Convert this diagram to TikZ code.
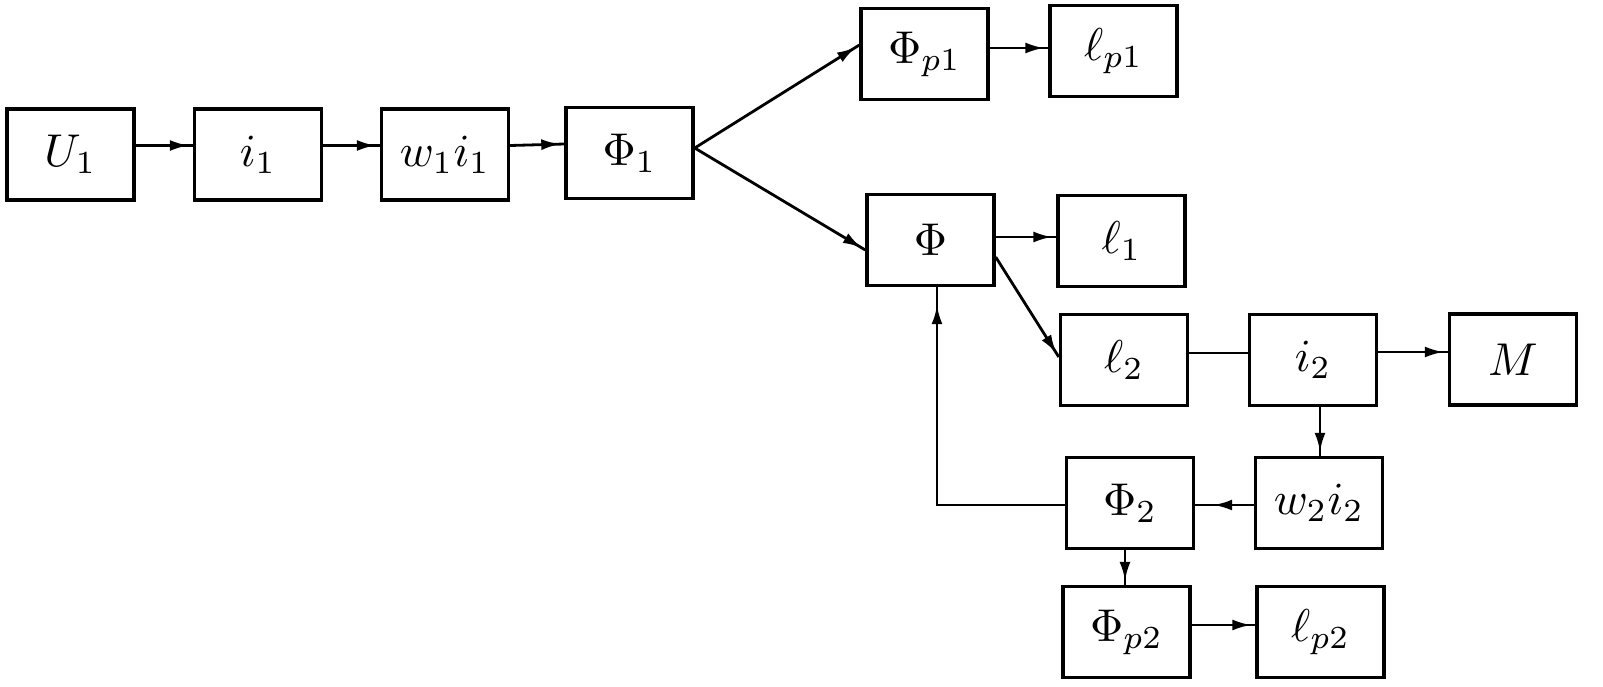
\documentclass[tikz,border=0pt]{standalone}
\usetikzlibrary{arrows.meta,decorations.markings}
\newcommand{\blklbl}[1]{\scalebox{4.6}{$#1$}}
\begin{document}
\begin{tikzpicture}[x=1pt,y=-1pt,
  blk/.style={draw,line width=3.4pt,minimum width=127pt,minimum height=91pt,inner sep=0pt},
  conn/.style={line width=2.8pt},
  arr/.style={conn,postaction={decorate},decoration={markings,
    mark=at position -4pt with {\arrow{Latex[length=19pt,width=11pt]}}}},
  arrmid/.style={conn,postaction={decorate},decoration={markings,
    mark=at position -18pt with {\arrow{Latex[length=19pt,width=11pt]}}}}]
\fill[white] (0,0) rectangle (1603,686);
\useasboundingbox (0,0) rectangle (1603,686);
% blocks
\node[blk] (u1)  at (70.5,154.5) {\blklbl{U_1}};
\node[blk] (i1)  at (258,154.5) {\blklbl{i_1}};
\node[blk] (w1)  at (445,154.5) {\blklbl{w_1 i_1}};
\node[blk] (f1)  at (629.5,153) {\blklbl{\Phi_1}};
\node[blk] (fp1) at (924.5,54) {\blklbl{\Phi_{p1}}};
\node[blk] (lp1) at (1113.5,51) {\blklbl{\ell_{p1}}};
\node[blk] (f)   at (930.5,240) {\blklbl{\Phi}};
\node[blk] (l1)  at (1121.5,241) {\blklbl{\ell_1}};
\node[blk] (l2)  at (1124,360) {\blklbl{\ell_2}};
\node[blk] (i2)  at (1313,360) {\blklbl{i_2}};
\node[blk] (m)   at (1513,359.5) {\blklbl{M}};
\node[blk] (f2)  at (1130,503) {\blklbl{\Phi_2}};
\node[blk] (w2)  at (1319,503) {\blklbl{w_2 i_2}};
\node[blk] (fp2) at (1126.5,632) {\blklbl{\Phi_{p2}}};
\node[blk] (lp2) at (1320.5,632) {\blklbl{\ell_{p2}}};
% connectors
\draw[arr] ([yshift=9pt]u1.east) -- ([yshift=9pt]i1.west);
\draw[arr] ([yshift=9pt]i1.east) -- ([yshift=9pt]w1.west);
\draw[arr] ([yshift=9pt]w1.east) -- ([yshift=9pt]f1.west);
\draw[arr] ([yshift=5pt]f1.east) -- ([yshift=9pt]fp1.west);
\draw[arr] ([yshift=5pt]f1.east) -- ([yshift=-10pt]f.west);
\draw[arr] ([yshift=6pt]fp1.east) -- ([yshift=3pt]lp1.west);
\draw[arr] ([yshift=3pt]f.east) -- ([yshift=4pt]l1.west);
\draw[arr] ([yshift=-17pt]f.east) -- ([yshift=3pt]l2.west);
\draw[conn] ([yshift=7pt]l2.east) -- ([yshift=7pt]i2.west);
\draw[arr] ([yshift=8pt]i2.east) -- ([yshift=7.5pt]m.west);
\draw[arr] ([xshift=7pt]i2.south) -- ([xshift=1pt]w2.north);
\draw[arrmid] ([yshift=-2pt]w2.west) -- ([yshift=-2pt]f2.east);
\draw[arr] ([xshift=-5pt]f2.south) -- ([xshift=-1.5pt]fp2.north);
\draw[arr] ([yshift=7pt]fp2.east) -- ([yshift=7pt]lp2.west);
\draw[arrmid] ([yshift=-2pt]f2.west) -| ([xshift=6.5pt]f.south);
\end{tikzpicture}
\end{document}
